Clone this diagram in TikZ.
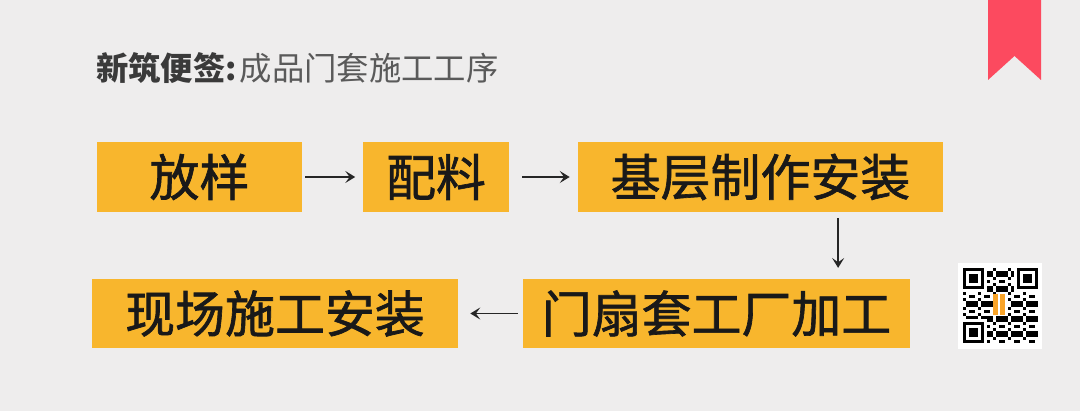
\documentclass[tikz,border=0pt]{standalone}
\usepackage{fontspec}
\usepackage{xcolor}
\usepackage{tikz}
\usetikzlibrary{arrows.meta, positioning}
\newfontfamily\cjk{Noto Sans CJK SC}
\newfontfamily\cjkbox[FakeBold=1.3]{Noto Sans CJK SC}
\definecolor{notebg}{HTML}{EEEDED}
\definecolor{noteorange}{HTML}{F8B62D}
\definecolor{notered}{HTML}{FC4A5F}
\definecolor{notedark}{HTML}{3A3A3A}
\definecolor{notegray}{HTML}{5A5A5A}

\begin{document}
\begin{tikzpicture}[
  x=0.025cm, y=-0.025cm,
  stepbox/.style={rectangle, fill=noteorange, minimum height=1.725cm, inner sep=0pt, text=black!90, font=\cjkbox\fontsize{35.5}{40}\selectfont},
  arrow/.style={-{Stealth[length=7pt, width=8.5pt, inset=3pt]}, line width=1.05pt, draw=black!85}
]
\fill[notebg] (0,0) rectangle (1080,411);
\useasboundingbox (0,0) rectangle (1080,411);

% ribbon top right
\fill[notered] (988,0) -- (1041,0) -- (1041,80) -- (1014.5,56) -- (988,80) -- cycle;

% title
\node[anchor=west, inner sep=0pt, font=\cjk\fontsize{23}{26}\selectfont] (title) at (96,68)
  {\textcolor{notedark}{\bfseries 新筑便签:}\hspace{2pt}\textcolor{notegray}{成品门套施工工序}};

% process steps
\node[stepbox, minimum width=5.125cm] (fangyang) at (199.5,177) {放样};
\node[stepbox, minimum width=3.625cm] (peiliao) at (436,177) {配料};
\node[stepbox, minimum width=9.125cm] (jiceng) at (760.5,177) {基层制作安装};
\node[stepbox, minimum width=9.675cm] (menshan) at (716.5,313.5) {门扇套工厂加工};
\node[stepbox, minimum width=9.15cm] (xianchang) at (275,313.5) {现场施工安装};

\draw[arrow, shorten <=0.075cm, shorten >=0.2cm] (fangyang) -- (peiliao);
\draw[arrow, shorten <=0.34cm, shorten >=0.2cm] (peiliao) -- (jiceng);
\draw[arrow, shorten <=0.16cm, shorten >=0.27cm] ([xshift=1.94cm]jiceng.south) -- ([xshift=1.94cm]jiceng.south |- menshan.north);
\draw[arrow, shorten <=0.125cm, shorten >=0.3cm] (menshan) -- (xianchang);

% qr code
\fill[white] (958,263) rectangle (1042,349);
\foreach \fx/\fy in {0/0, 18/0, 0/18} {
  \fill[black] (963+3*\fx,268+3*\fy) rectangle ++(21,21);
  \fill[white] (966+3*\fx,271+3*\fy) rectangle ++(15,15);
  \fill[black] (969+3*\fx,274+3*\fy) rectangle ++(9,9);
}
\foreach \i in {0,...,24}
  \foreach \j in {0,...,24} {
    \pgfmathtruncatemacro\qrskip{(\i<8 && \j<8) || (\i>16 && \j<8) || (\i<8 && \j>16) || (\i>9 && \i<15 && \j>8 && \j<16)}
    \pgfmathtruncatemacro\qrbit{mod(\i*\i*3+\j*7+\i*\j*5+\j*\j,5)<2}
    \ifnum\qrskip=0 \ifnum\qrbit=1
      \fill[black] (963+3*\i,268+3*\j) rectangle ++(3,3);
    \fi\fi
  }
\fill[noteorange!90!red] (993,294) rectangle (998,315);
\fill[noteorange!90!red] (1000,294) rectangle (1005,315);
\end{tikzpicture}
\end{document}
